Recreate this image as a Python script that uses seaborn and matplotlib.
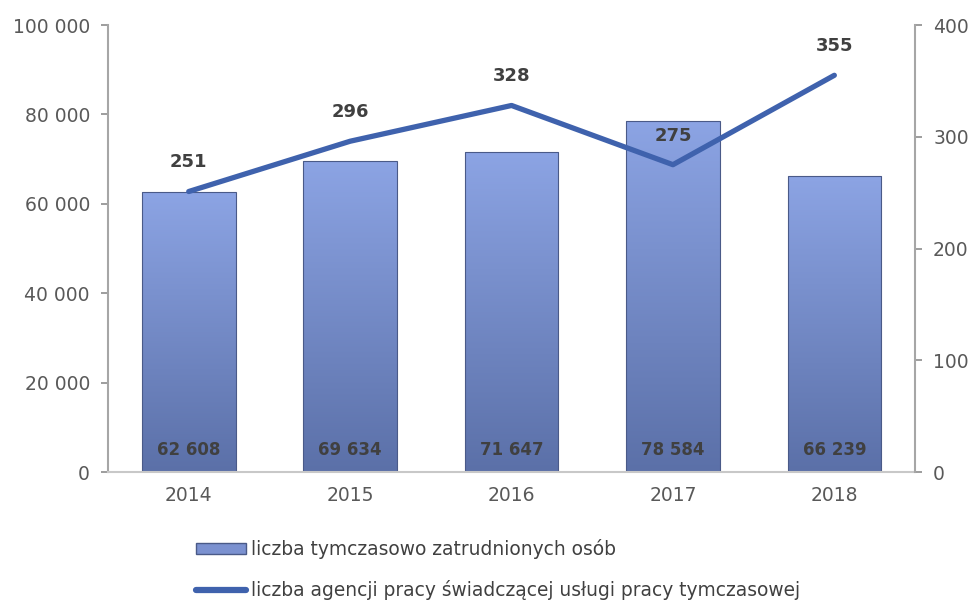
import numpy as np
import pandas as pd
import matplotlib
matplotlib.use("Agg")
import matplotlib.pyplot as plt
import seaborn as sns
from matplotlib.lines import Line2D
from matplotlib.patches import Patch
from matplotlib.colors import LinearSegmentedColormap

years = ["2014", "2015", "2016", "2017", "2018"]
workers = [62608, 69634, 71647, 78584, 66239]
agencies = [251, 296, 328, 275, 355]
bar_label = "liczba tymczasowo zatrudnionych osób"
line_label = "liczba agencji pracy świadczącej usługi pracy tymczasowej"

def fmt(v):
    return f"{v:,}".replace(",", " ")

sns.set_theme(style="white")
plt.rcParams['font.family'] = ['DejaVu Sans']

df = pd.DataFrame({"year": years, "workers": workers, "agencies": agencies})

fig = plt.figure(figsize=(9.75, 6.01), dpi=100)
ax = fig.add_axes([0.1108, 0.2146, 0.8277, 0.7438])

sns.barplot(data=df, x="year", y="workers", ax=ax, color="#7b91d0", width=0.58,
            edgecolor="#4a5a88", linewidth=0.8, saturation=1)

grad = np.linspace(0, 1, 256).reshape(-1, 1)
cmap = LinearSegmentedColormap.from_list("g", ["#5b70a8", "#8ca4e4"])
for p in ax.patches:
    x0, y0 = p.get_x(), p.get_y()
    w, h = p.get_width(), p.get_height()
    im = ax.imshow(grad, cmap=cmap, aspect="auto", origin="lower",
                   extent=[x0, x0 + w, y0, y0 + h], zorder=p.get_zorder() + 0.1)
    im.set_clip_path(p)
    p.set_facecolor("none")
    p.set_zorder(p.get_zorder() + 0.2)
ax.set_xlim(-0.5, 4.5)
ax.set_ylim(0, 100000)

for i, v in enumerate(workers):
    ax.text(i, 5000, fmt(v), ha="center", va="center", fontsize=12,
            fontweight="bold", color="#404040", zorder=5)

ax.set_yticks(np.arange(0, 100001, 20000))
ax.set_yticklabels([fmt(v) for v in range(0, 100001, 20000)])
ax.set_xlabel("")
ax.set_ylabel("")

ax2 = ax.twinx()
sns.lineplot(data=df, x="year", y="agencies", ax=ax2, color="#3f62ad",
             linewidth=3.8, sort=False, legend=False)
ax2.set_ylim(0, 400)
ax2.set_yticks([0, 100, 200, 300, 400])
ax2.set_ylabel("")
for i, v in enumerate(agencies):
    ax2.text(i, v + 26, str(v), ha="center", va="center", fontsize=13,
             fontweight="bold", color="#404040", zorder=6)

for a in (ax, ax2):
    for s in a.spines.values():
        s.set_visible(False)
    a.tick_params(axis="both", colors="#8c8c8c", labelcolor="#595959",
                  labelsize=13.5, length=5, width=1.2)
ax.spines["left"].set_visible(True)
ax.spines["left"].set_color("#a6a6a6")
ax.spines["left"].set_linewidth(1.5)
ax.spines["bottom"].set_visible(True)
ax.spines["bottom"].set_color("#c8c8c8")
ax.spines["bottom"].set_linewidth(1.5)
ax2.spines["right"].set_visible(True)
ax2.spines["right"].set_color("#a6a6a6")
ax2.spines["right"].set_linewidth(1.5)
ax.tick_params(axis="x", length=0, pad=10)
ax.tick_params(axis="y", left=True, pad=8)
ax2.tick_params(axis="y", right=True, pad=8)

handles = [Patch(facecolor="#7b91d0", edgecolor="#4a5a88", label=bar_label),
           Line2D([0], [0], color="#3f62ad", linewidth=4.5, label=line_label)]
fig.legend(handles=handles, loc="upper left", bbox_to_anchor=(0.193, 0.115),
           frameon=False, fontsize=13.4, labelcolor="#404040",
           handlelength=2.7, handleheight=0.5, handletextpad=0.25,
           labelspacing=1.1, borderaxespad=0)

fig.savefig("out.png", dpi=100)
